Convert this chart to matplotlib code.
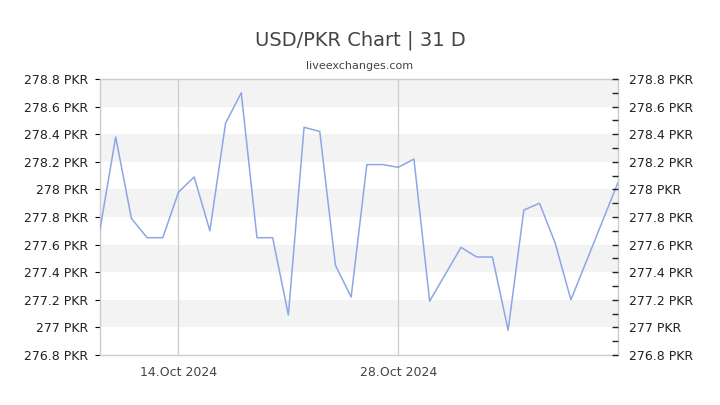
import numpy as np
import pandas as pd
import matplotlib
matplotlib.use('Agg')
import matplotlib.pyplot as plt
from matplotlib.ticker import MultipleLocator, FuncFormatter

# USD/PKR daily rates (31 points, a few dates missing)
dates = ['2024-10-09', '2024-10-10', '2024-10-11', '2024-10-12', '2024-10-13',
         '2024-10-14', '2024-10-15', '2024-10-16', '2024-10-17', '2024-10-18',
         '2024-10-19', '2024-10-20', '2024-10-21', '2024-10-22', '2024-10-23',
         '2024-10-24', '2024-10-25', '2024-10-26', '2024-10-27', '2024-10-28',
         '2024-10-29', '2024-10-30', '2024-11-01', '2024-11-02', '2024-11-03',
         '2024-11-04', '2024-11-05', '2024-11-06', '2024-11-07', '2024-11-08',
         '2024-11-11']
rates = [277.71, 278.38, 277.79, 277.65, 277.65,
         277.98, 278.09, 277.70, 278.48, 278.70,
         277.65, 277.65, 277.09, 278.45, 278.42,
         277.45, 277.22, 278.18, 278.18, 278.16,
         278.22, 277.19, 277.58, 277.51, 277.51,
         276.98, 277.85, 277.90, 277.61, 277.20,
         278.05]
xtick_dates = ['2024-10-14', '2024-10-28']
xtick_labels = ['14.Oct 2024', '28.Oct 2024']

x = pd.to_datetime(dates)
xt = pd.to_datetime(xtick_dates)

fig = plt.figure(figsize=(7.2, 4.05), dpi=100)
ax = fig.add_axes([100/720, 50/405, 518/720, 276/405])

ymin, ymax = 276.8, 278.8
ax.set_ylim(ymin, ymax)
ax.set_xlim(x[0], x[-1])

# alternating bands
for lo in np.arange(277.0, 278.8, 0.4):
    ax.axhspan(lo, lo + 0.2, color='#f3f3f3', zorder=0, lw=0)

for d in xt:
    ax.axvline(d, color='#cccccc', lw=0.9, zorder=1)

ax.plot(x, rates, color='#8ca6e8', lw=1.1, zorder=3)

for s in ax.spines.values():
    s.set_color('#cccccc')
    s.set_linewidth(1)

fmt = FuncFormatter(lambda v, p: f'{v:g} PKR')
ax.yaxis.set_major_locator(MultipleLocator(0.2))
ax.yaxis.set_major_formatter(fmt)
ax.tick_params(axis='y', which='both', left=False, labelsize=9, labelcolor='#222222', pad=5)

ax.set_xticks(xt)
ax.set_xticklabels(xtick_labels)
ax.tick_params(axis='x', length=0, labelsize=9, labelcolor='#444444', pad=8)

ax2 = ax.twinx()
ax2.set_ylim(ymin, ymax)
ax2.yaxis.set_major_locator(MultipleLocator(0.2))
ax2.yaxis.set_minor_locator(MultipleLocator(0.1))
ax2.yaxis.set_major_formatter(fmt)
ax2.tick_params(axis='y', which='both', direction='in', length=4, width=1,
                color='#222222', labelsize=9, labelcolor='#222222', pad=8)
for s in ax2.spines.values():
    s.set_visible(False)

fig.text(0.5, 0.90, 'USD/PKR Chart | 31 D', ha='center', va='center',
         fontsize=14, color='#444444')
fig.text(0.5, 0.838, 'liveexchanges.com', ha='center', va='center',
         fontsize=8, color='#444444')

fig.savefig('out.png', dpi=100)
